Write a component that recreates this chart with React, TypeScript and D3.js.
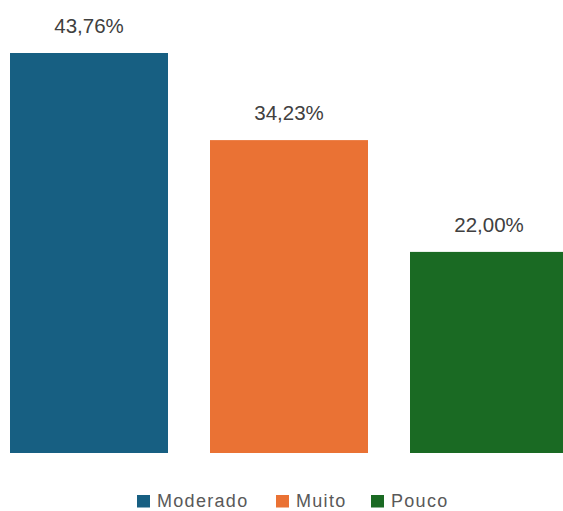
import * as d3 from "d3";

const categories = ["Moderado", "Muito", "Pouco"];
const values = [43.76, 34.23, 22.0];
const colors = ["#175f82", "#ea7234", "#1a6a23"];

const W = 563;
const H = 511;
const FONT = "'Liberation Sans', Arial, sans-serif";

const fmt = (v: number) => v.toFixed(2).replace(".", ",") + "%";

export default function App() {
  const x = d3
    .scaleBand<string>()
    .domain(categories)
    .range([-11, 589])
    .paddingInner(0.21)
    .paddingOuter(0.105);

  const y = d3.scaleLinear().domain([0, 43.76]).range([453, 53]);

  // legend positions
  const legendItems = [
    { name: categories[0], x: 137 },
    { name: categories[1], x: 276 },
    { name: categories[2], x: 371 },
  ];

  return (
    <svg
      width={W}
      height={H}
      style={{ position: "absolute", left: 0, top: 0, background: "#fff" }}
    >
      {categories.map((c, i) => (
        <g key={c}>
          <rect
            x={x(c)}
            y={y(values[i])}
            width={x.bandwidth()}
            height={y(0) - y(values[i])}
            fill={colors[i]}
          />
          <text
            x={(x(c) || 0) + x.bandwidth() / 2}
            y={y(values[i]) - 20}
            textAnchor="middle"
            fontFamily={FONT}
            fontSize={20.5}
            fill="#404040"
          >
            {fmt(values[i])}
          </text>
        </g>
      ))}
      <g>
        {legendItems.map((d, i) => (
          <g key={d.name} transform={`translate(${d.x},0)`}>
            <rect x={0} y={495} width={13} height={12.5} fill={colors[i]} />
            <text
              x={20}
              y={507}
              fontFamily={FONT}
              fontSize={18}
              letterSpacing={1.3}
              fill="#595959"
            >
              {d.name}
            </text>
          </g>
        ))}
      </g>
    </svg>
  );
}
